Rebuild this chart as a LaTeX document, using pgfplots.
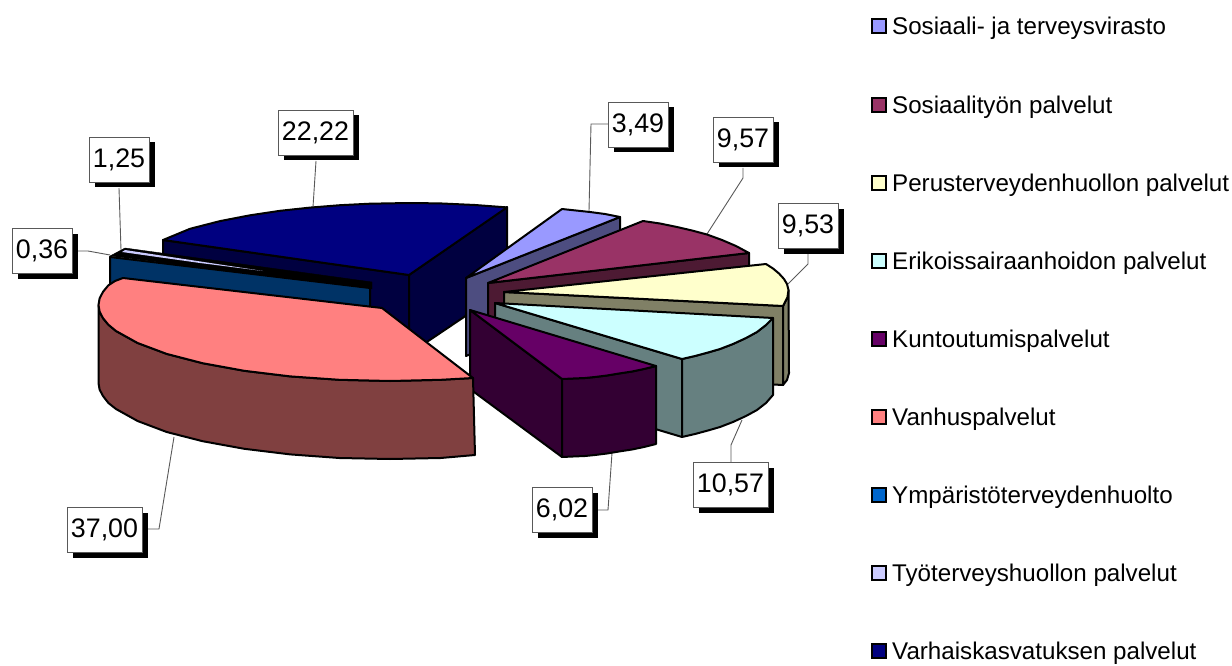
\documentclass[border=0pt]{standalone}
\usepackage{fontspec}
\setmainfont{Liberation Sans}
\usepackage{pgfplots}
\pgfplotsset{compat=1.18}

% face colours, top and side of each slice
\definecolor{blueT}{HTML}{9999FF}\definecolor{blueS}{HTML}{4D4D80}
\definecolor{maroonT}{HTML}{993366}\definecolor{maroonS}{HTML}{4D1A33}
\definecolor{yellowT}{HTML}{FFFFCC}\definecolor{yellowS}{HTML}{808066}
\definecolor{cyanT}{HTML}{CCFFFF}\definecolor{cyanS}{HTML}{668080}
\definecolor{purpleT}{HTML}{660066}\definecolor{purpleS}{HTML}{330033}
\definecolor{pinkT}{HTML}{FF8080}\definecolor{pinkS}{HTML}{804040}
\definecolor{oceanT}{HTML}{0066CC}\definecolor{oceanS}{HTML}{003366}
\definecolor{lilacT}{HTML}{CCCCFF}
\definecolor{navyT}{HTML}{000080}\definecolor{navyS}{HTML}{000040}

\pgfplotsset{
  face/.style={draw=black,fill=#1,line width=2pt,line join=round,mark=none},
  leader/.style={draw=black!65,line width=0.9pt,mark=none},
  key/.style={only marks,mark=square*,mark size=7pt,
    mark options={draw=black,fill=#1,line width=2pt}},
}

\newcommand{\callout}[4]{%
  \node[fill=black,minimum width=#3pt,minimum height=45pt,inner sep=0pt,
        xshift=5.5pt,yshift=-5.5pt] at (axis cs:#1,#2) {};
  \node[fill=white,draw=black!65,line width=0.8pt,minimum width=#3pt,minimum height=45pt,
        inner sep=0pt,font=\fontsize{26.8}{27}\selectfont] at (axis cs:#1,#2) {\raisebox{-1pt}{#4}};
}
\newcommand{\keytext}[2]{%
  \node[anchor=base west,inner sep=0pt,font=\fontsize{24.15}{25}\selectfont]
    at (axis cs:892,#1) {#2};
}

\begin{document}
\begin{tikzpicture}
\path[use as bounding box] (0,0) rectangle (1232pt,666pt);
\begin{axis}[
  width=1232pt,height=666pt,scale only axis,
  xmin=0,xmax=1232,ymin=0,ymax=666,y dir=reverse,
  hide axis,clip=false]

% leader lines
\addplot[leader] coordinates {(77,251) (88,251) (110,255)};
\addplot[leader] coordinates {(119,188) (121,250)};
\addplot[leader] coordinates {(316,161) (313,207)};
\addplot[leader] coordinates {(608,124) (591,124) (589,211)};
\addplot[leader] coordinates {(743,168) (743,178) (707,234)};
\addplot[leader] coordinates {(808,253) (808,264) (788,284)};
\addplot[leader] coordinates {(731,462) (731,445) (742,420)};
\addplot[leader] coordinates {(597,510) (608,510) (612,453)};
\addplot[leader] coordinates {(147,529) (159,529) (174,437)};

% Varhaiskasvatuksen palvelut 22,22
\addplot[face=navyS] coordinates {(163,240) (409,275) (409,345) (163,310)} --cycle;
\addplot[face=navyS] coordinates {(409,275) (507,207) (507,288) (409,354)} --cycle;
\addplot[face=navyT] coordinates {(409,275) (163,240) (190,228.8) (220,221.1) (250,215.3) (280,210.8)
  (310,207.6) (340,205.2) (370,203.7) (409,203) (440,203.4) (475,205) (507,207.4)} --cycle;

% Sosiaali- ja terveysvirasto 3,49
\addplot[face=blueS] coordinates {(466,278) (620,217) (620,295) (466,356)} --cycle;
\addplot[face=blueT] coordinates {(466,278) (562,209) (576,210.5) (590,212) (605,214) (620,217)} --cycle;

% Sosiaalityon palvelut 9,57
\addplot[face=maroonS] coordinates {(488,283) (749,253) (749,330) (488,360)} --cycle;
\addplot[face=maroonT] coordinates {(488,283) (643,221) (660,223.5) (677,227) (692,230.5) (707,234.5)
  (722,240) (736,246) (749,253)} --cycle;

% Perusterveydenhuollon palvelut 9,53
\addplot[face=yellowS] coordinates {(504,292) (783,306) (783,385) (504,371)} --cycle;
\addplot[face=yellowS] coordinates {(783,306) (787.5,297) (788.5,290) (789,373) (787,380) (783,385)} --cycle;
\addplot[face=yellowT] coordinates {(504,292) (766,264) (773,268.5) (779,273.5) (784,279) (787,284)
  (788.5,290) (787.5,297) (783,306)} --cycle;

% Erikoissairaanhoidon palvelut 10,57
\addplot[face=cyanS] coordinates {(495,303) (682,359) (682,437) (495,381)} --cycle;
\addplot[face=cyanS] coordinates {(682,359) (695,356) (708,352.5) (720,349) (733,344) (746,338) (757,332) (766,325) (773,318)
  (773,395) (766,403) (757,410) (746,416) (733,422) (720,427) (708,430.5) (695,434) (682,437)} --cycle;
\addplot[face=cyanT] coordinates {(495,303) (773,318) (766,325) (757,332) (746,338) (733,344) (720,349)
  (708,352.5) (695,356) (682,359)} --cycle;

% Kuntoutumispalvelut 6,02
\addplot[face=purpleS] coordinates {(470,310) (562,379) (562,457) (470,389)} --cycle;
\addplot[face=purpleS] coordinates {(562,379) (573,378.5) (585,378) (595,377) (607,375.5) (619,373.5) (632,371.5) (644,369) (656,366)
  (656,444) (644,447) (632,449.5) (619,451.5) (607,453.5) (595,455) (585,456) (573,456.5) (562,457)} --cycle;
\addplot[face=purpleT] coordinates {(470,310) (656,366) (644,369) (632,371.5) (619,373.5) (607,375.5)
  (595,377) (585,378) (573,378.5) (562,379)} --cycle;

% Tyoterveyshuollon palvelut 1,25 and Ymparistoterveydenhuolto 0,36
\addplot[draw=black,fill=black,mark=none] coordinates {(110,256) (125,248) (372,282) (372,289)} --cycle;
\addplot[draw=none,fill=lilacT,mark=none] coordinates {(122,252) (125,250) (263,271) (200,263)} --cycle;
\addplot[face=oceanS] coordinates {(110,257) (370,288) (370,310) (110,340)} --cycle;

% Vanhuspalvelut 37,00
\addplot[face=pinkS] coordinates {(473,378) (440.6,379.8) (390,381) (339.4,379.8) (290.3,376.4) (244.3,370.8)
  (202.6,363.2) (166.7,353.9) (137.6,343) (116,331) (108.4,324.7) (103,318.2) (99.6,311.6) (98.5,305)
  (98.5,383) (99.6,389.6) (103,396) (108.4,403) (116,409) (137.6,421) (166.7,432) (202.6,441.2) (244.3,448.8)
  (290.3,454.4) (339.4,458) (390,459) (440.6,458) (475,455)} --cycle;
\addplot[face=pinkT] coordinates {(123,278) (382,308) (473,378) (440.6,379.8) (390,381) (339.4,379.8)
  (290.3,376.4) (244.3,370.8) (202.6,363.2) (166.7,353.9) (137.6,343) (116,331) (108.4,324.7) (103,318.2)
  (99.6,311.6) (98.5,305) (99.6,298.4) (103,291.8) (108.4,285.3) (115,281)} --cycle;

% legend keys
\addplot[key=blueT] coordinates {(879,26)};
\addplot[key=maroonT] coordinates {(879,105)};
\addplot[key=yellowT] coordinates {(879,183)};
\addplot[key=cyanT] coordinates {(879,261)};
\addplot[key=purpleT] coordinates {(879,339)};
\addplot[key=pinkT] coordinates {(879,417)};
\addplot[key=oceanT] coordinates {(879,495)};
\addplot[key=lilacT] coordinates {(879,573)};
\addplot[key=navyT] coordinates {(879,651)};

\keytext{34.7}{Sosiaali- ja terveysvirasto}
\keytext{113.7}{Sosiaalityön palvelut}
\keytext{191.7}{Perusterveydenhuollon palvelut}
\keytext{269.7}{Erikoissairaanhoidon palvelut}
\keytext{347.7}{Kuntoutumispalvelut}
\keytext{425.7}{Vanhuspalvelut}
\keytext{503.7}{Ympäristöterveydenhuolto}
\keytext{581.7}{Työterveyshuollon palvelut}
\keytext{659.7}{Varhaiskasvatuksen palvelut}

\callout{42}{250.5}{60}{0,36}
\callout{119}{159.5}{60}{1,25}
\callout{315.5}{132.5}{75}{22,22}
\callout{638}{124.5}{60}{3,49}
\callout{743}{139.5}{60}{9,57}
\callout{808}{225.5}{60}{9,53}
\callout{730.5}{484.5}{75}{10,57}
\callout{562}{509.5}{60}{6,02}
\callout{104.5}{529.5}{75}{37,00}
\end{axis}
\end{tikzpicture}
\end{document}
